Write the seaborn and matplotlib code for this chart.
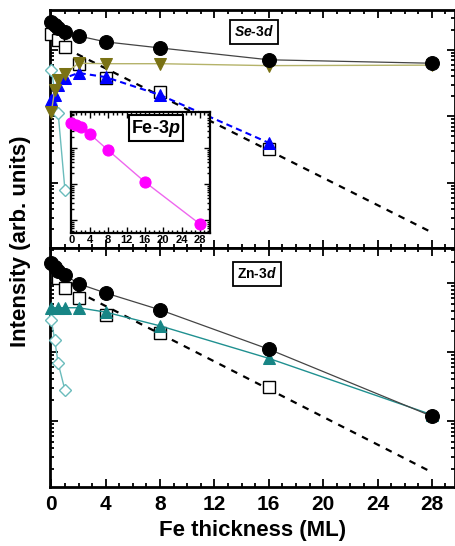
import numpy as np
import pandas as pd
import matplotlib
matplotlib.use("Agg")
import matplotlib.pyplot as plt
import seaborn as sns
from matplotlib.ticker import MultipleLocator, LogLocator, NullFormatter

sns.set_style("ticks")
plt.rcParams['font.family'] = ['Liberation Sans', 'DejaVu Sans']
plt.rcParams['font.weight'] = 'bold'
plt.rcParams['mathtext.fontset'] = 'custom'
plt.rcParams['mathtext.rm'] = 'Liberation Sans:bold'
plt.rcParams['mathtext.it'] = 'Liberation Sans:bold:italic'
for k in ('text.color', 'axes.labelcolor', 'xtick.color', 'ytick.color', 'axes.edgecolor'):
    plt.rcParams[k] = 'black'

# ---------------- data ----------------
# Se-3d panel
se_circ_x = [0, 0.25, 0.5, 1, 2, 4, 8, 16, 28]
se_circ_y = [263, 240, 214, 186, 162, 132, 107, 71, 63]
se_tri_dn_x = [0, 0.25, 0.5, 1, 2, 4, 8, 16, 28]
se_tri_dn_y = [11.7, 25, 35, 44, 63, 62, 62, 58, 59]
se_tri_up_x = [0, 0.25, 0.5, 1, 2, 4, 8, 16]
se_tri_up_y = [17.8, 21, 29.5, 38, 45, 39, 21, 4.0]
se_sq_x = [0, 0.5, 1, 2, 4, 8, 16]
se_sq_y = [174, 141, 112, 62, 38, 23.4, 3.2]
se_fit_x = [1, 28]
se_fit_y = [107, 0.18]
se_dia_x = [0, 0.5, 1]
se_dia_y = [50, 11.2, 0.78]

# Fe-3p inset
fe_x = [0, 1, 2, 4, 8, 16, 28]
fe_y = [4.9, 4.4, 3.8, 2.45, 0.87, 0.115, 0.0078]

# Zn-3d panel
zn_circ_x = [0, 0.25, 0.5, 1, 2, 4, 8, 16, 28]
zn_circ_y = [195, 170, 148, 132, 98, 72, 41, 11, 1.17]
zn_sq_x = [0.5, 1, 2, 4, 8, 16]
zn_sq_y = [117, 85, 60, 35, 19, 3.1]
zn_tri_x = [0, 0.5, 1, 2, 4, 8, 16, 28]
zn_tri_y = [44, 44, 44, 44, 38, 24, 8.1, 1.23]
zn_dia_x = [0, 0.25, 0.5, 1]
zn_dia_y = [29, 14.8, 6.9, 2.8]
zn_fit_x = [1, 28]
zn_fit_y = [93, 0.18]

xticks = [0, 4, 8, 12, 16, 20, 24, 28]

# ---------------- figure ----------------
fig = plt.figure(figsize=(4.55, 5.46), dpi=100)
L, R = 50/455, 1.0
yb_top, yt_top = 1 - 248/546, 1 - 10/546
yb_bot, yt_bot = 1 - 487/546, 1 - 248/546
ax1 = fig.add_axes([L, yb_top, R - L, yt_top - yb_top])
ax2 = fig.add_axes([L, yb_bot, R - L, yt_bot - yb_bot])

def line(ax, x, y, **kw):
    sns.lineplot(x=x, y=y, ax=ax, estimator=None, sort=False, **kw)

# Se-3d
line(ax1, se_fit_x, se_fit_y, color='black', linestyle=(0, (3, 3)), linewidth=1.6, zorder=2)
line(ax1, se_dia_x, se_dia_y, color='#6bbcbc', linewidth=1.0, marker='D', markersize=6,
     markerfacecolor='white', markeredgecolor='#6bbcbc', markeredgewidth=1.0, zorder=3, clip_on=False)
line(ax1, se_sq_x, se_sq_y, color='black', linestyle='none', marker='s', markersize=8,
     markerfacecolor='white', markeredgecolor='black', markeredgewidth=1.0, zorder=3, clip_on=False)
line(ax1, se_tri_up_x, se_tri_up_y, color='#0000ff', linestyle=(0, (3, 2)), linewidth=1.5,
     marker='^', markersize=9, markeredgecolor='#0000ff', zorder=4, clip_on=False)
line(ax1, se_tri_dn_x, se_tri_dn_y, color='#b5b36a', linewidth=1.0, marker='v', markersize=9,
     markerfacecolor='#7a7214', markeredgecolor='#7a7214', zorder=4, clip_on=False)
line(ax1, se_circ_x, se_circ_y, color='#444444', linewidth=0.9, marker='o', markersize=10,
     markerfacecolor='black', markeredgecolor='black', zorder=5, clip_on=False)

# Zn-3d
line(ax2, zn_fit_x, zn_fit_y, color='black', linestyle=(0, (3, 3)), linewidth=1.6, zorder=2)
line(ax2, zn_dia_x, zn_dia_y, color='#6bbcbc', linewidth=1.0, marker='D', markersize=6,
     markerfacecolor='white', markeredgecolor='#6bbcbc', markeredgewidth=1.0, zorder=3, clip_on=False)
line(ax2, zn_sq_x, zn_sq_y, color='black', linestyle='none', marker='s', markersize=8,
     markerfacecolor='white', markeredgecolor='black', markeredgewidth=1.0, zorder=3, clip_on=False)
line(ax2, zn_tri_x, zn_tri_y, color='#1f9090', linewidth=1.0, marker='^', markersize=9,
     markerfacecolor='#178585', markeredgecolor='#178585', zorder=4, clip_on=False)
line(ax2, zn_circ_x, zn_circ_y, color='#444444', linewidth=0.9, marker='o', markersize=10,
     markerfacecolor='black', markeredgecolor='black', zorder=5, clip_on=False)

for ax, ylim in ((ax1, (0.105, 398)), (ax2, (0.11, 324))):
    ax.set_yscale('log')
    ax.set_ylim(*ylim)
    ax.set_xlim(-0.1, 29.7)
    ax.set_xticks(xticks)
    ax.xaxis.set_minor_locator(MultipleLocator(1))
    ax.yaxis.set_major_locator(LogLocator(base=10, numticks=10))
    ax.yaxis.set_minor_locator(LogLocator(base=10, subs=np.arange(2, 10), numticks=10))
    ax.yaxis.set_major_formatter(NullFormatter())
    ax.yaxis.set_minor_formatter(NullFormatter())
    ax.tick_params(which='both', direction='in', top=True, right=True, width=1.3)
    ax.tick_params(which='major', length=6)
    ax.tick_params(which='minor', length=3)
    for s in ax.spines.values():
        s.set_linewidth(2)
    ax.set_xlabel('')
    ax.set_ylabel('')

ax1.tick_params(axis='x', labelbottom=False)
ax2.tick_params(axis='x', labelsize=15, pad=6)
for lab in ax2.get_xticklabels():
    lab.set_fontweight('bold')
ax2.set_xlabel('Fe thickness (ML)', fontsize=16, fontweight='bold', labelpad=4)

fig.text(21/455, 1 - 241/546, 'Intensity (arb. units)', rotation=90, fontsize=16,
         fontweight='bold', ha='center', va='center')

box = dict(boxstyle='square,pad=0.3', facecolor='white', edgecolor='black', linewidth=1.3)
ax1.text(254/455, 1 - 32/546, 'Se-$3d$', transform=fig.transFigure, fontsize=10,
         ha='center', va='center', bbox=box, style='italic')
ax2.text(257/455, 1 - 274/546, 'Zn-$3d$', transform=fig.transFigure, fontsize=10,
         ha='center', va='center', bbox=box)

# Fe-3p inset
axi = fig.add_axes([71/455, 1 - 233/546, 139/455, 121/546])
line(axi, fe_x, fe_y, color='#ee66ee', linewidth=1.0, marker='o', markersize=8,
     markerfacecolor='#ff00ff', markeredgecolor='#ff00ff', zorder=4, clip_on=False)
axi.set_yscale('log')
axi.set_ylim(0.0044, 10)
axi.set_xlim(-0.1, 30.2)
axi.set_xticks(xticks)
axi.xaxis.set_minor_locator(MultipleLocator(1))
axi.yaxis.set_major_locator(LogLocator(base=10, numticks=10))
axi.yaxis.set_minor_locator(LogLocator(base=10, subs=np.arange(2, 10), numticks=10))
axi.yaxis.set_major_formatter(NullFormatter())
axi.yaxis.set_minor_formatter(NullFormatter())
axi.tick_params(which='both', direction='in', top=True, right=True, width=1.0)
axi.tick_params(which='major', length=4)
axi.tick_params(which='minor', length=2)
axi.tick_params(axis='x', labelsize=8, pad=1.5)
for lab in axi.get_xticklabels():
    lab.set_fontweight('bold')
for s in axi.spines.values():
    s.set_linewidth(1.6)
axi.set_xlabel('')
axi.set_ylabel('')
axi.text(156/455, 1 - 128/546, 'Fe-$3p$', transform=fig.transFigure, fontsize=13,
         ha='center', va='center', bbox=dict(boxstyle='square,pad=0.15', facecolor='white',
                                              edgecolor='black', linewidth=1.5))

fig.savefig('out.png', dpi=100)
